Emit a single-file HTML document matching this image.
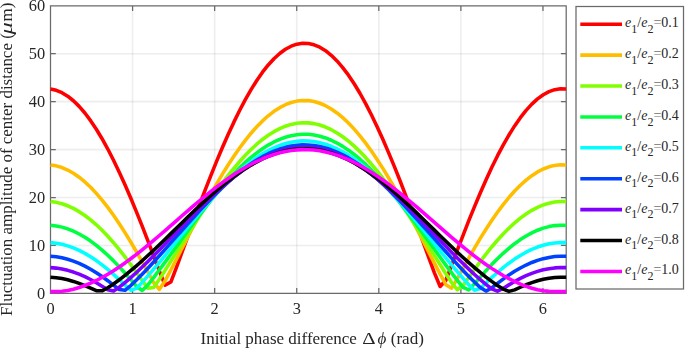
<!DOCTYPE html>
<html><head><meta charset="utf-8"><style>
html,body{margin:0;padding:0;background:#fff;}
svg{display:block;font-family:"Liberation Serif",serif;filter:blur(0.35px);}
</style></head><body>
<svg width="685" height="349" viewBox="0 0 685 349">
<path d="M132.58 5.80V293.40M214.65 5.80V293.40M296.73 5.80V293.40M378.80 5.80V293.40M460.88 5.80V293.40M542.96 5.80V293.40" stroke="#262626" stroke-opacity="0.08" stroke-width="1.6" fill="none"/>
<path d="M50.50 245.47H566.20M50.50 197.53H566.20M50.50 149.60H566.20M50.50 101.67H566.20M50.50 53.73H566.20" stroke="#262626" stroke-opacity="0.08" stroke-width="1.6" fill="none"/>
<path d="M50.50 293.40V288.10M50.50 5.80V11.10M132.58 293.40V288.10M132.58 5.80V11.10M214.65 293.40V288.10M214.65 5.80V11.10M296.73 293.40V288.10M296.73 5.80V11.10M378.80 293.40V288.10M378.80 5.80V11.10M460.88 293.40V288.10M460.88 5.80V11.10M542.96 293.40V288.10M542.96 5.80V11.10M50.50 293.40H55.80M566.20 293.40H560.90M50.50 245.47H55.80M566.20 245.47H560.90M50.50 197.53H55.80M566.20 197.53H560.90M50.50 149.60H55.80M566.20 149.60H560.90M50.50 101.67H55.80M566.20 101.67H560.90M50.50 53.73H55.80M566.20 53.73H560.90M50.50 5.80H55.80M566.20 5.80H560.90M50.50 5.80H566.20V293.40H50.50Z" stroke="#6a6a6a" stroke-width="1.25" fill="none"/>
<g fill="none" stroke-width="3.55" stroke-linejoin="round" stroke-linecap="butt"><polyline points="50.50,88.95 56.23,90.27 61.96,92.68 67.69,96.18 73.42,100.75 79.15,106.37 84.88,113.01 90.61,120.64 96.34,129.22 102.07,138.71 107.80,149.06 113.53,160.23 119.26,172.15 124.99,184.76 130.72,198.02 136.45,211.83 142.18,226.14 147.91,240.87 153.64,255.90 159.37,271.05 165.10,285.17 170.83,282.03 176.56,267.07 182.29,251.45 188.02,235.79 193.75,220.26 199.48,204.95 205.21,189.95 210.94,175.34 216.67,161.18 222.40,147.55 228.13,134.52 233.86,122.15 239.59,110.50 245.32,99.64 251.05,89.60 256.78,80.44 262.51,72.21 268.24,64.95 273.97,58.69 279.70,53.45 285.43,49.28 291.16,46.19 296.89,44.18 302.62,43.28 308.35,43.49 314.08,44.81 319.81,47.22 325.54,50.72 331.27,55.29 337.00,60.92 342.73,67.56 348.46,75.19 354.19,83.77 359.92,93.26 365.65,103.62 371.38,114.78 377.11,126.71 382.84,139.33 388.57,152.60 394.30,166.43 400.03,180.77 405.76,195.54 411.49,210.66 417.22,226.07 422.95,241.66 428.68,257.32 434.41,272.84 440.14,286.50 445.87,280.26 451.60,265.37 457.33,250.23 463.06,235.30 468.79,220.72 474.52,206.59 480.25,192.97 485.98,179.95 491.71,167.59 497.44,155.95 503.17,145.08 508.90,135.05 514.63,125.90 520.36,117.67 526.09,110.40 531.82,104.14 537.55,98.91 543.28,94.74 549.01,91.65 554.74,89.64 560.47,88.74 566.20,88.95" stroke="#ff0000"/><polyline points="50.50,164.90 56.23,165.83 61.96,167.54 67.69,170.01 73.42,173.25 79.15,177.22 84.88,181.92 90.61,187.31 96.34,193.38 102.07,200.08 107.80,207.40 113.53,215.29 119.26,223.72 124.99,232.63 130.72,241.99 136.45,251.75 142.18,261.83 147.91,272.17 153.64,282.50 159.37,289.30 165.10,280.87 170.83,270.01 176.56,258.91 182.29,247.75 188.02,236.64 193.75,225.64 199.48,214.81 205.21,204.19 210.94,193.85 216.67,183.84 222.40,174.20 228.13,164.99 233.86,156.24 239.59,148.00 245.32,140.32 251.05,133.22 256.78,126.74 262.51,120.92 268.24,115.79 273.97,111.36 279.70,107.66 285.43,104.71 291.16,102.52 296.89,101.10 302.62,100.47 308.35,100.62 314.08,101.54 319.81,103.25 325.54,105.73 331.27,108.96 337.00,112.94 342.73,117.63 348.46,123.03 354.19,129.10 359.92,135.81 365.65,143.13 371.38,151.03 377.11,159.46 382.84,168.39 388.57,177.77 394.30,187.56 400.03,197.70 405.76,208.15 411.49,218.85 417.22,229.75 422.95,240.80 428.68,251.94 434.41,263.08 440.14,274.14 445.87,284.72 451.60,288.18 457.33,278.66 463.06,268.27 468.79,258.02 474.52,248.05 480.25,238.43 485.98,229.23 491.71,220.50 497.44,212.27 503.17,204.59 508.90,197.49 514.63,191.02 520.36,185.21 526.09,180.07 531.82,175.64 537.55,171.95 543.28,169.00 549.01,166.81 554.74,165.39 560.47,164.76 566.20,164.90" stroke="#ffbd00"/><polyline points="50.50,201.60 56.23,202.36 61.96,203.75 67.69,205.77 73.42,208.41 79.15,211.66 84.88,215.49 90.61,219.89 96.34,224.84 102.07,230.32 107.80,236.29 113.53,242.73 119.26,249.60 124.99,256.87 130.72,264.49 136.45,272.42 142.18,280.54 147.91,288.31 153.64,287.54 159.37,279.24 165.10,270.35 170.83,261.29 176.56,252.17 182.29,243.04 188.02,233.96 193.75,224.97 199.48,216.12 205.21,207.45 210.94,199.00 216.67,190.83 222.40,182.96 228.13,175.43 233.86,168.29 239.59,161.56 245.32,155.28 251.05,149.49 256.78,144.20 262.51,139.45 268.24,135.26 273.97,131.64 279.70,128.62 285.43,126.21 291.16,124.42 296.89,123.27 302.62,122.75 308.35,122.87 314.08,123.63 319.81,125.02 325.54,127.04 331.27,129.68 337.00,132.93 342.73,136.76 348.46,141.17 354.19,146.12 359.92,151.60 365.65,157.58 371.38,164.03 377.11,170.92 382.84,178.21 388.57,185.87 394.30,193.86 400.03,202.14 405.76,210.68 411.49,219.42 417.22,228.33 422.95,237.36 428.68,246.46 434.41,255.59 440.14,264.70 445.87,273.71 451.60,282.49 457.33,289.77 463.06,285.55 468.79,277.48 474.52,269.42 480.25,261.60 485.98,254.10 491.71,246.98 497.44,240.26 503.17,234.00 508.90,228.21 514.63,222.92 520.36,218.18 526.09,213.98 531.82,210.37 537.55,207.35 543.28,204.94 549.01,203.16 554.74,202.00 560.47,201.48 566.20,201.60" stroke="#80ff00"/><polyline points="50.50,225.26 56.23,225.92 61.96,227.12 67.69,228.87 73.42,231.16 79.15,233.97 84.88,237.28 90.61,241.10 96.34,245.38 102.07,250.12 107.80,255.29 113.53,260.86 119.26,266.79 124.99,273.06 130.72,279.60 136.45,286.23 142.18,290.50 147.91,284.92 153.64,277.57 159.37,269.93 165.10,262.14 170.83,254.27 176.56,246.35 182.29,238.44 188.02,230.57 193.75,222.78 199.48,215.11 205.21,207.60 210.94,200.29 216.67,193.21 222.40,186.39 228.13,179.87 233.86,173.68 239.59,167.86 245.32,162.42 251.05,157.40 256.78,152.83 262.51,148.71 268.24,145.08 273.97,141.95 279.70,139.33 285.43,137.24 291.16,135.70 296.89,134.69 302.62,134.24 308.35,134.35 314.08,135.01 319.81,136.21 325.54,137.96 331.27,140.25 337.00,143.06 342.73,146.38 348.46,150.20 354.19,154.49 359.92,159.24 365.65,164.41 371.38,170.00 377.11,175.96 382.84,182.28 388.57,188.91 394.30,195.83 400.03,203.01 405.76,210.40 411.49,217.97 417.22,225.69 422.95,233.51 428.68,241.40 434.41,249.32 440.14,257.23 445.87,265.08 451.60,272.82 457.33,280.38 463.06,287.48 468.79,289.85 474.52,283.76 480.25,277.12 485.98,270.67 491.71,264.52 497.44,258.72 503.17,253.30 508.90,248.29 514.63,243.72 520.36,239.61 526.09,235.98 531.82,232.85 537.55,230.24 543.28,228.15 549.01,226.61 554.74,225.61 560.47,225.16 566.20,225.26" stroke="#00ff40"/><polyline points="50.50,242.61 56.23,243.20 61.96,244.28 67.69,245.84 73.42,247.88 79.15,250.39 84.88,253.36 90.61,256.77 96.34,260.60 102.07,264.83 107.80,269.44 113.53,274.40 119.26,279.67 124.99,285.15 130.72,290.22 136.45,288.42 142.18,282.40 147.91,275.90 153.64,269.17 159.37,262.29 165.10,255.31 170.83,248.25 176.56,241.17 182.29,234.08 188.02,227.04 193.75,220.07 199.48,213.21 205.21,206.50 210.94,199.95 216.67,193.62 222.40,187.52 228.13,181.69 233.86,176.16 239.59,170.95 245.32,166.08 251.05,161.60 256.78,157.50 262.51,153.82 268.24,150.57 273.97,147.77 279.70,145.43 285.43,143.56 291.16,142.18 296.89,141.28 302.62,140.88 308.35,140.97 314.08,141.56 319.81,142.64 325.54,144.21 331.27,146.25 337.00,148.77 342.73,151.74 348.46,155.15 354.19,158.99 359.92,163.23 365.65,167.87 371.38,172.86 377.11,178.20 382.84,183.84 388.57,189.78 394.30,195.97 400.03,202.39 405.76,209.00 411.49,215.77 417.22,222.68 422.95,229.68 428.68,236.74 434.41,243.83 440.14,250.90 445.87,257.94 451.60,264.89 457.33,271.71 463.06,278.37 468.79,284.75 474.52,290.21 480.25,288.52 485.98,283.08 491.71,277.66 497.44,272.50 503.17,267.67 508.90,263.19 514.63,259.11 520.36,255.44 526.09,252.20 531.82,249.40 537.55,247.06 543.28,245.20 549.01,243.82 554.74,242.92 560.47,242.52 566.20,242.61" stroke="#00ffff"/><polyline points="50.50,256.31 56.23,256.84 61.96,257.82 67.69,259.25 73.42,261.11 79.15,263.40 84.88,266.11 90.61,269.21 96.34,272.70 102.07,276.54 107.80,280.72 113.53,285.16 119.26,289.58 124.99,290.26 130.72,285.51 136.45,280.00 142.18,274.21 147.91,268.20 153.64,262.04 159.37,255.74 165.10,249.36 170.83,242.92 176.56,236.44 182.29,229.98 188.02,223.55 193.75,217.19 199.48,210.92 205.21,204.79 210.94,198.82 216.67,193.03 222.40,187.47 228.13,182.14 233.86,177.09 239.59,172.34 245.32,167.90 251.05,163.80 256.78,160.06 262.51,156.70 268.24,153.73 273.97,151.18 279.70,149.04 285.43,147.34 291.16,146.07 296.89,145.26 302.62,144.89 308.35,144.97 314.08,145.51 319.81,146.49 325.54,147.92 331.27,149.79 337.00,152.09 342.73,154.80 348.46,157.91 354.19,161.42 359.92,165.29 365.65,169.52 371.38,174.08 377.11,178.95 382.84,184.11 388.57,189.53 394.30,195.18 400.03,201.04 405.76,207.07 411.49,213.26 417.22,219.56 422.95,225.95 428.68,232.40 434.41,238.87 440.14,245.34 445.87,251.76 451.60,258.12 457.33,264.37 463.06,270.48 468.79,276.41 474.52,282.11 480.25,287.45 485.98,291.07 491.71,287.98 497.44,283.47 503.17,279.12 508.90,275.06 514.63,271.34 520.36,268.00 526.09,265.04 531.82,262.49 537.55,260.36 543.28,258.66 549.01,257.40 554.74,256.59 560.47,256.22 566.20,256.31" stroke="#0040ff"/><polyline points="50.50,267.63 56.23,268.12 61.96,269.03 67.69,270.35 73.42,272.07 79.15,274.18 84.88,276.68 90.61,279.53 96.34,282.73 102.07,286.21 107.80,289.75 113.53,290.90 119.26,287.23 124.99,282.63 130.72,277.68 136.45,272.48 142.18,267.08 147.91,261.50 153.64,255.79 159.37,249.96 165.10,244.04 170.83,238.07 176.56,232.08 182.29,226.09 188.02,220.14 193.75,214.25 199.48,208.45 205.21,202.77 210.94,197.24 216.67,191.89 222.40,186.73 228.13,181.81 233.86,177.13 239.59,172.72 245.32,168.61 251.05,164.82 256.78,161.36 262.51,158.25 268.24,155.50 273.97,153.13 279.70,151.16 285.43,149.58 291.16,148.41 296.89,147.65 302.62,147.31 308.35,147.39 314.08,147.89 319.81,148.80 325.54,150.12 331.27,151.85 337.00,153.98 342.73,156.49 348.46,159.37 354.19,162.62 359.92,166.21 365.65,170.12 371.38,174.34 377.11,178.85 382.84,183.63 388.57,188.64 394.30,193.87 400.03,199.30 405.76,204.89 411.49,210.61 417.22,216.45 422.95,222.37 428.68,228.34 434.41,234.33 440.14,240.32 445.87,246.27 451.60,252.15 457.33,257.95 463.06,263.61 468.79,269.13 474.52,274.46 480.25,279.57 485.98,284.40 491.71,288.81 497.44,291.22 503.17,288.45 508.90,284.87 514.63,281.49 520.36,278.42 526.09,275.70 531.82,273.35 537.55,271.38 543.28,269.81 549.01,268.64 554.74,267.89 560.47,267.55 566.20,267.63" stroke="#8000ff"/><polyline points="50.50,277.29 56.23,277.75 61.96,278.60 67.69,279.82 73.42,281.42 79.15,283.37 84.88,285.66 90.61,288.22 96.34,290.74 102.07,290.82 107.80,287.75 113.53,283.95 119.26,279.80 124.99,275.37 130.72,270.70 136.45,265.82 142.18,260.76 147.91,255.54 153.64,250.19 159.37,244.73 165.10,239.20 170.83,233.61 176.56,228.01 182.29,222.41 188.02,216.84 193.75,211.32 199.48,205.90 205.21,200.59 210.94,195.42 216.67,190.41 222.40,185.58 228.13,180.98 233.86,176.60 239.59,172.48 245.32,168.64 251.05,165.09 256.78,161.85 262.51,158.94 268.24,156.37 273.97,154.16 279.70,152.31 285.43,150.83 291.16,149.74 296.89,149.03 302.62,148.71 308.35,148.78 314.08,149.25 319.81,150.10 325.54,151.34 331.27,152.96 337.00,154.94 342.73,157.29 348.46,159.99 354.19,163.03 359.92,166.38 365.65,170.04 371.38,173.99 377.11,178.21 382.84,182.68 388.57,187.37 394.30,192.26 400.03,197.34 405.76,202.57 411.49,207.92 417.22,213.38 422.95,218.92 428.68,224.50 434.41,230.11 440.14,235.71 445.87,241.28 451.60,246.79 457.33,252.21 463.06,257.51 468.79,262.68 474.52,267.68 480.25,272.48 485.98,277.06 491.71,281.39 497.44,285.43 503.17,289.04 508.90,291.36 514.63,289.86 520.36,287.24 526.09,284.77 531.82,282.60 537.55,280.78 543.28,279.32 549.01,278.23 554.74,277.53 560.47,277.22 566.20,277.29" stroke="#000000"/><polyline points="50.50,291.60 56.23,291.53 61.96,291.20 67.69,290.43 73.42,289.18 79.15,287.52 84.88,285.50 90.61,283.13 96.34,280.45 102.07,277.47 107.80,274.21 113.53,270.69 119.26,266.93 124.99,262.94 130.72,258.75 136.45,254.38 142.18,249.84 147.91,245.17 153.64,240.38 159.37,235.50 165.10,230.55 170.83,225.55 176.56,220.54 182.29,215.53 188.02,210.54 193.75,205.61 199.48,200.76 205.21,196.01 210.94,191.38 216.67,186.90 222.40,182.59 228.13,178.47 233.86,174.55 239.59,170.87 245.32,167.43 251.05,164.25 256.78,161.36 262.51,158.76 268.24,156.46 273.97,154.48 279.70,152.82 285.43,151.50 291.16,150.52 296.89,149.89 302.62,149.61 308.35,149.67 314.08,150.09 319.81,150.85 325.54,151.96 331.27,153.40 337.00,155.18 342.73,157.28 348.46,159.70 354.19,162.41 359.92,165.41 365.65,168.69 371.38,172.22 377.11,175.99 382.84,179.99 388.57,184.19 394.30,188.56 400.03,193.10 405.76,197.78 411.49,202.57 417.22,207.45 422.95,212.41 428.68,217.40 434.41,222.42 440.14,227.43 445.87,232.41 451.60,237.34 457.33,242.19 463.06,246.94 468.79,251.56 474.52,256.04 480.25,260.35 485.98,264.46 491.71,268.37 497.44,272.04 503.17,275.47 508.90,278.62 514.63,281.49 520.36,284.06 526.09,286.30 531.82,288.19 537.55,289.70 543.28,290.77 549.01,291.37 554.74,291.58 560.47,291.60 566.20,291.60" stroke="#ff00ff"/></g>
<g fill="#262626"><text x="45.20" y="293.40" text-anchor="end" font-size="16.4" dominant-baseline="central">0</text><text x="45.20" y="245.47" text-anchor="end" font-size="16.4" dominant-baseline="central">10</text><text x="45.20" y="197.53" text-anchor="end" font-size="16.4" dominant-baseline="central">20</text><text x="45.20" y="149.60" text-anchor="end" font-size="16.4" dominant-baseline="central">30</text><text x="45.20" y="101.67" text-anchor="end" font-size="16.4" dominant-baseline="central">40</text><text x="45.20" y="53.73" text-anchor="end" font-size="16.4" dominant-baseline="central">50</text><text x="45.20" y="5.80" text-anchor="end" font-size="16.4" dominant-baseline="central">60</text><text x="50.50" y="313.70" text-anchor="middle" font-size="16.4">0</text><text x="132.58" y="313.70" text-anchor="middle" font-size="16.4">1</text><text x="214.65" y="313.70" text-anchor="middle" font-size="16.4">2</text><text x="296.73" y="313.70" text-anchor="middle" font-size="16.4">3</text><text x="378.80" y="313.70" text-anchor="middle" font-size="16.4">4</text><text x="460.88" y="313.70" text-anchor="middle" font-size="16.4">5</text><text x="542.96" y="313.70" text-anchor="middle" font-size="16.4">6</text><text x="200.50" y="344.30" font-size="17">Initial phase difference</text><text transform="translate(362.30 344.30) scale(1.22 1)" font-size="17">&#916;</text><text x="377.50" y="344.30" font-size="17" font-style="italic">&#981;</text><text x="390.80" y="344.30" font-size="17">(rad)</text><g transform="translate(12.00 0) rotate(-90)"><text x="-315.90" y="0" font-size="16.95">Fluctuation amplitude of center distance (</text><text transform="translate(-34.60 0) scale(1.45 1)" font-size="17" font-style="italic">&#956;</text><text x="-21.40" y="0" font-size="17">m)</text></g></g>
<g fill="#262626"><rect x="576.00" y="6.50" width="107.50" height="282.50" fill="#fff" stroke="#6a6a6a" stroke-width="1.25"/><path d="M580.30 24.20H622.00" stroke="#ff0000" stroke-width="3.55"/><text x="625.10" y="27.20" font-size="14"><tspan font-style="italic">e</tspan><tspan font-size="12" dy="5.6">1</tspan><tspan dy="-5.6">/</tspan><tspan font-style="italic">e</tspan><tspan font-size="12" dy="5.6">2</tspan><tspan dy="-5.6" fill="#707070">=</tspan><tspan>0.1</tspan></text><path d="M580.30 55.10H622.00" stroke="#ffbd00" stroke-width="3.55"/><text x="625.10" y="58.10" font-size="14"><tspan font-style="italic">e</tspan><tspan font-size="12" dy="5.6">1</tspan><tspan dy="-5.6">/</tspan><tspan font-style="italic">e</tspan><tspan font-size="12" dy="5.6">2</tspan><tspan dy="-5.6" fill="#707070">=</tspan><tspan>0.2</tspan></text><path d="M580.30 86.00H622.00" stroke="#80ff00" stroke-width="3.55"/><text x="625.10" y="89.00" font-size="14"><tspan font-style="italic">e</tspan><tspan font-size="12" dy="5.6">1</tspan><tspan dy="-5.6">/</tspan><tspan font-style="italic">e</tspan><tspan font-size="12" dy="5.6">2</tspan><tspan dy="-5.6" fill="#707070">=</tspan><tspan>0.3</tspan></text><path d="M580.30 116.90H622.00" stroke="#00ff40" stroke-width="3.55"/><text x="625.10" y="119.90" font-size="14"><tspan font-style="italic">e</tspan><tspan font-size="12" dy="5.6">1</tspan><tspan dy="-5.6">/</tspan><tspan font-style="italic">e</tspan><tspan font-size="12" dy="5.6">2</tspan><tspan dy="-5.6" fill="#707070">=</tspan><tspan>0.4</tspan></text><path d="M580.30 147.80H622.00" stroke="#00ffff" stroke-width="3.55"/><text x="625.10" y="150.80" font-size="14"><tspan font-style="italic">e</tspan><tspan font-size="12" dy="5.6">1</tspan><tspan dy="-5.6">/</tspan><tspan font-style="italic">e</tspan><tspan font-size="12" dy="5.6">2</tspan><tspan dy="-5.6" fill="#707070">=</tspan><tspan>0.5</tspan></text><path d="M580.30 178.70H622.00" stroke="#0040ff" stroke-width="3.55"/><text x="625.10" y="181.70" font-size="14"><tspan font-style="italic">e</tspan><tspan font-size="12" dy="5.6">1</tspan><tspan dy="-5.6">/</tspan><tspan font-style="italic">e</tspan><tspan font-size="12" dy="5.6">2</tspan><tspan dy="-5.6" fill="#707070">=</tspan><tspan>0.6</tspan></text><path d="M580.30 209.60H622.00" stroke="#8000ff" stroke-width="3.55"/><text x="625.10" y="212.60" font-size="14"><tspan font-style="italic">e</tspan><tspan font-size="12" dy="5.6">1</tspan><tspan dy="-5.6">/</tspan><tspan font-style="italic">e</tspan><tspan font-size="12" dy="5.6">2</tspan><tspan dy="-5.6" fill="#707070">=</tspan><tspan>0.7</tspan></text><path d="M580.30 240.50H622.00" stroke="#000000" stroke-width="3.55"/><text x="625.10" y="243.50" font-size="14"><tspan font-style="italic">e</tspan><tspan font-size="12" dy="5.6">1</tspan><tspan dy="-5.6">/</tspan><tspan font-style="italic">e</tspan><tspan font-size="12" dy="5.6">2</tspan><tspan dy="-5.6" fill="#707070">=</tspan><tspan>0.8</tspan></text><path d="M580.30 271.40H622.00" stroke="#ff00ff" stroke-width="3.55"/><text x="625.10" y="274.40" font-size="14"><tspan font-style="italic">e</tspan><tspan font-size="12" dy="5.6">1</tspan><tspan dy="-5.6">/</tspan><tspan font-style="italic">e</tspan><tspan font-size="12" dy="5.6">2</tspan><tspan dy="-5.6" fill="#707070">=</tspan><tspan>1.0</tspan></text></g>
</svg>
</body></html>
